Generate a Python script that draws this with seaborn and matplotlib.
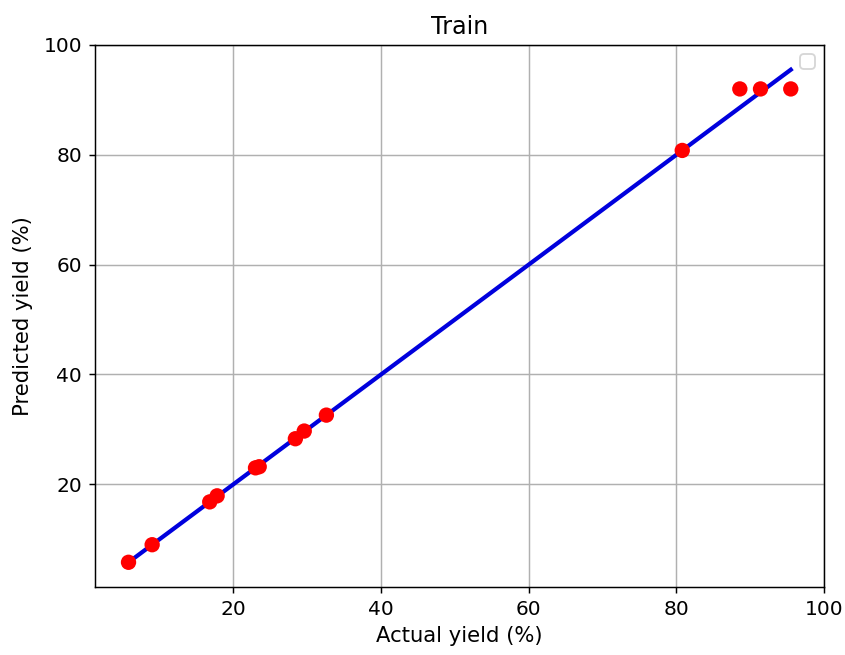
import warnings
import numpy as np
import pandas as pd
import matplotlib
matplotlib.use("Agg")
import matplotlib.pyplot as plt
import seaborn as sns

# Training-set yields: measured vs. model prediction (%)
actual_yield = [5.8, 9.0, 16.8, 17.8, 23.0, 23.5, 28.4, 29.6, 32.6, 80.8, 88.6, 91.4, 95.5]
predicted_yield = [5.8, 9.0, 16.8, 17.9, 23.0, 23.2, 28.3, 29.7, 32.6, 80.8, 92.0, 92.0, 92.0]

df = pd.DataFrame({"actual": actual_yield, "predicted": predicted_yield})

plt.rcParams["font.family"] = ["DejaVu Sans"]
fig = plt.figure(figsize=(845 / 132, 655 / 132), dpi=132)
ax = fig.add_axes([95 / 845, 1 - 587 / 655, (824 - 95) / 845, (587 - 45) / 655])

# identity line through the actual values
sns.lineplot(data=df, x="actual", y="actual", ax=ax, color="#0000dd",
             linewidth=2.3, zorder=2)
sns.scatterplot(data=df, x="actual", y="predicted", ax=ax, color="red",
                s=70, edgecolor="none", linewidth=0, zorder=3)

ax.set_title("Train", fontsize=13)
ax.set_xlabel("Actual yield (%)", fontsize=11.5)
ax.set_ylabel("Predicted yield (%)", fontsize=11.5, labelpad=6)
ax.set_xticks([20, 40, 60, 80, 100])
ax.set_yticks([20, 40, 60, 80, 100])
ax.tick_params(labelsize=11)
ax.set_xlim(1.26, 100.0)
ax.set_ylim(1.3, 100.0)
ax.grid(True, color="#b0b0b0", linewidth=0.8)
ax.set_axisbelow(True)

with warnings.catch_warnings():
    warnings.simplefilter("ignore")
    ax.legend(loc="upper right")

fig.savefig("out.png", dpi=132)
